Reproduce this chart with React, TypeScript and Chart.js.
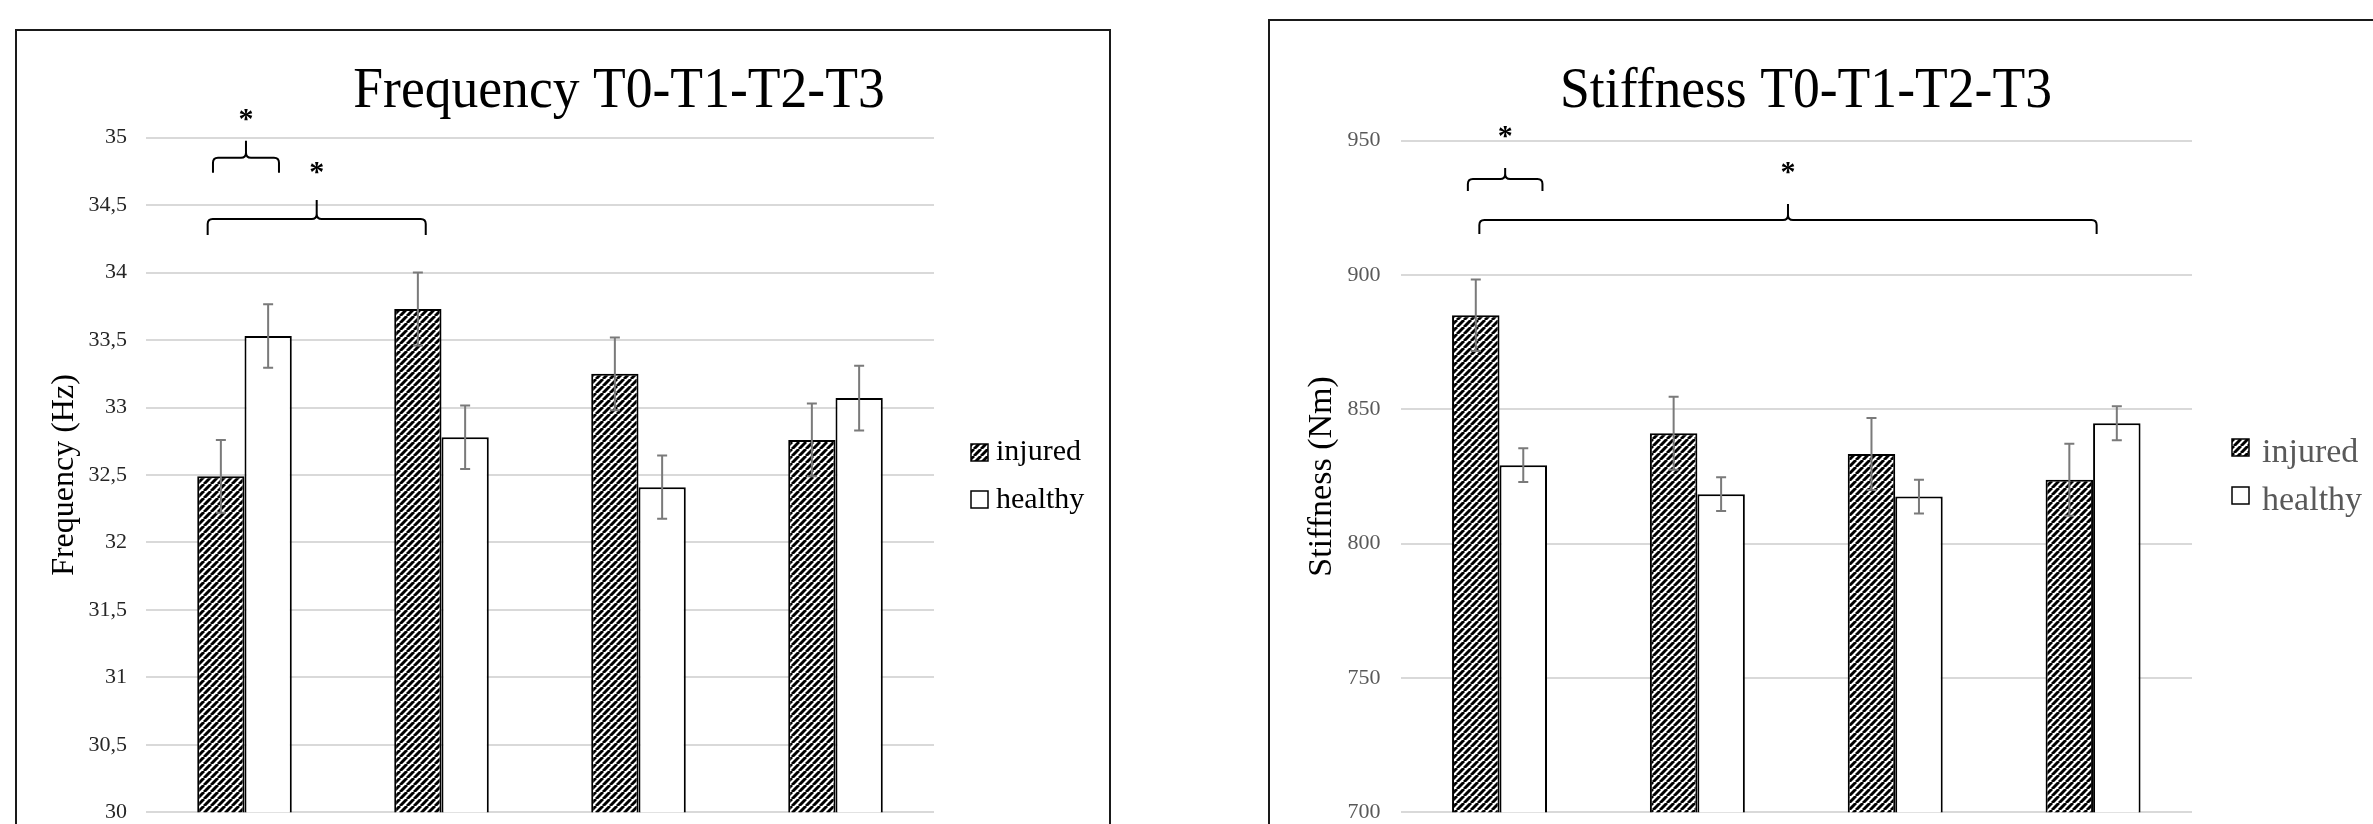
import React, { useEffect, useRef } from 'react';
import { Chart, registerables } from 'chart.js';

Chart.register(...registerables);

// ---------------- data ----------------
const categories = ['T0', 'T1', 'T2', 'T3'];
const seriesNames = ['injured', 'healthy'];

const freqInjured = [32.49, 33.73, 33.25, 32.76];
const freqHealthy = [33.53, 32.78, 32.41, 33.07];
const freqInjuredErr = [0.27, 0.27, 0.27, 0.27];
const freqHealthyErr = [0.235, 0.235, 0.235, 0.24];
const freqTickLabels = ['30', '30,5', '31', '31,5', '32', '32,5', '33', '33,5', '34', '34,5', '35'];

const stiffInjured = [885.0, 841.1, 833.4, 823.8];
const stiffHealthy = [829.2, 818.4, 817.5, 844.8];
const stiffInjuredErr = [13.3, 13.6, 13.4, 13.4];
const stiffHealthyErr = [6.3, 6.3, 6.3, 6.3];
const stiffTickLabels = ['700', '750', '800', '850', '900', '950'];

// significance brackets (category index span, value of bracket line, value of asterisk)
const freqBrackets = [
  { from: -0.16, to: 0.175, y: 34.852, star: 35.183, depth: 15, tip: 17 },
  { from: -0.187, to: 0.92, y: 34.397, star: 34.79, depth: 16, tip: 19 },
];
const stiffBrackets = [
  { from: -0.16, to: 0.217, y: 935.7, star: 954.0, depth: 12, tip: 11 },
  { from: -0.102, to: 3.018, y: 920.5, star: 940.6, depth: 14, tip: 16 },
];

const FONT = "'Liberation Serif', 'Times New Roman', serif";

function makeHatch(ctx: CanvasRenderingContext2D) {
  const P = 7;
  const c = document.createElement('canvas');
  c.width = P;
  c.height = P;
  const g = c.getContext('2d')!;
  g.fillStyle = '#ffffff';
  g.fillRect(0, 0, P, P);
  g.strokeStyle = '#000000';
  g.lineWidth = P * 0.42;
  g.beginPath();
  for (let k = -1; k <= 1; k++) {
    g.moveTo(k * P, P);
    g.lineTo(k * P + P, 0);
  }
  g.stroke();
  return ctx.createPattern(c, 'repeat')!;
}

function drawBrace(ctx: CanvasRenderingContext2D, x0: number, x1: number, yl: number, d: number, t: number) {
  const r = 5;
  const xm = (x0 + x1) / 2;
  ctx.beginPath();
  ctx.moveTo(x0, yl + d);
  ctx.lineTo(x0, yl + r);
  ctx.quadraticCurveTo(x0, yl, x0 + r, yl);
  ctx.lineTo(xm - r, yl);
  ctx.quadraticCurveTo(xm, yl, xm, yl - r);
  ctx.lineTo(xm, yl - t);
  ctx.moveTo(x1, yl + d);
  ctx.lineTo(x1, yl + r);
  ctx.quadraticCurveTo(x1, yl, x1 - r, yl);
  ctx.lineTo(xm + r, yl);
  ctx.quadraticCurveTo(xm, yl, xm, yl - r);
  ctx.stroke();
}

type Cfg = {
  left: number; top: number; W: number; H: number;
  area: { l: number; r: number; t: number; b: number };
  injured: number[]; healthy: number[]; injErr: number[]; healErr: number[];
  min: number; max: number; step: number; tickLabels: string[]; tickColor: string;
  yTitle: string; yTitleSize: number; yTitlePad: number; tickPad: number;
  title: string; titleX: number; titleY: number;
  legend: { boxX: number; boxY: number[]; textX: number; baseY: number[]; size: number; color: string };
  brackets: typeof freqBrackets;
  frameRight: number;
};

function BarPanel({ cfg }: { cfg: Cfg }) {
  const ref = useRef<HTMLCanvasElement>(null);
  useEffect(() => {
    const canvas = ref.current!;
    const ctx0 = canvas.getContext('2d')!;
    const hatch = makeHatch(ctx0);
    const errs = [cfg.injErr, cfg.healErr];

    const decor = {
      id: 'decor',
      afterDatasetsDraw(chart: any) {
        const ctx = chart.ctx as CanvasRenderingContext2D;
        const y = chart.scales.y;
        ctx.save();
        ctx.strokeStyle = '#7a7a7a';
        ctx.lineWidth = 2;
        errs.forEach((arr, di) => {
          const meta = chart.getDatasetMeta(di);
          meta.data.forEach((bar: any, i: number) => {
            const v = chart.data.datasets[di].data[i] as number;
            const yt = y.getPixelForValue(v + arr[i]);
            const yb = y.getPixelForValue(v - arr[i]);
            const x = bar.x;
            ctx.beginPath();
            ctx.moveTo(x, yt);
            ctx.lineTo(x, yb);
            ctx.moveTo(x - 5, yt);
            ctx.lineTo(x + 5, yt);
            ctx.moveTo(x - 5, yb);
            ctx.lineTo(x + 5, yb);
            ctx.stroke();
          });
        });
        ctx.restore();
      },
      afterDraw(chart: any) {
        const ctx = chart.ctx as CanvasRenderingContext2D;
        const x = chart.scales.x;
        const y = chart.scales.y;
        ctx.save();
        // frame
        ctx.strokeStyle = '#1a1a1a';
        ctx.lineWidth = 2;
        ctx.strokeRect(1, 1, cfg.frameRight - 1, cfg.H + 20);
        // title (slightly condensed, like the original)
        ctx.save();
        ctx.translate(cfg.titleX, cfg.titleY);
        ctx.scale(0.975, 1.03);
        ctx.fillStyle = '#000';
        ctx.font = `55px ${FONT}`;
        ctx.textAlign = 'center';
        ctx.textBaseline = 'alphabetic';
        ctx.fillText(cfg.title, 0, 0);
        ctx.restore();
        // legend
        const lg = cfg.legend;
        seriesNames.forEach((name, i) => {
          ctx.fillStyle = i === 0 ? (hatch as any) : '#fff';
          ctx.fillRect(lg.boxX, lg.boxY[i], 17, 17);
          ctx.strokeStyle = '#000';
          ctx.lineWidth = 1.5;
          ctx.strokeRect(lg.boxX, lg.boxY[i], 17, 17);
          ctx.fillStyle = lg.color;
          ctx.font = `${lg.size}px ${FONT}`;
          ctx.textAlign = 'left';
          ctx.textBaseline = 'alphabetic';
          ctx.fillText(name, lg.textX, lg.baseY[i]);
        });
        // brackets
        ctx.strokeStyle = '#000';
        ctx.lineWidth = 2;
        cfg.brackets.forEach((b) => {
          const x0 = x.getPixelForValue(b.from);
          const x1 = x.getPixelForValue(b.to);
          const yl = y.getPixelForValue(b.y);
          drawBrace(ctx, x0, x1, yl, b.depth, b.tip);
          const sy = y.getPixelForValue(b.star);
          ctx.fillStyle = '#000';
          ctx.font = `bold 30px ${FONT}`;
          ctx.textAlign = 'center';
          ctx.textBaseline = 'alphabetic';
          ctx.fillText('*', (x0 + x1) / 2, sy + 15);
        });
        ctx.restore();
      },
    };

    const chart = new Chart(canvas, {
      type: 'bar',
      data: {
        labels: categories,
        datasets: [
          {
            label: seriesNames[0],
            data: cfg.injured,
            backgroundColor: hatch as any,
            borderColor: '#000',
            borderWidth: 2,
            borderSkipped: false,
          },
          {
            label: seriesNames[1],
            data: cfg.healthy,
            backgroundColor: '#ffffff',
            borderColor: '#000',
            borderWidth: 2,
            borderSkipped: false,
          },
        ],
      },
      options: {
        responsive: false,
        animation: false,
        devicePixelRatio: 1,
        categoryPercentage: 0.48,
        barPercentage: 1.0,
        layout: {
          padding: {
            left: 0,
            top: cfg.area.t,
            right: cfg.W - cfg.area.r,
            bottom: cfg.H - cfg.area.b,
          },
        },
        plugins: {
          legend: { display: false },
          tooltip: { enabled: false },
          title: { display: false },
        },
        scales: {
          x: { display: false },
          y: {
            min: cfg.min,
            max: cfg.max,
            afterFit: (s: any) => {
              s.width = cfg.area.l;
            },
            ticks: {
              stepSize: cfg.step,
              padding: cfg.tickPad,
              color: cfg.tickColor,
              font: { family: FONT, size: 22 },
              callback: (_v: any, i: number) => cfg.tickLabels[i],
            },
            grid: { color: '#d9d9d9', lineWidth: 2, drawTicks: false },
            border: { display: false },
            title: {
              display: true,
              text: cfg.yTitle,
              color: '#000',
              font: { family: FONT, size: cfg.yTitleSize },
              padding: { top: cfg.yTitlePad, bottom: 0 },
            },
          },
        },
      } as any,
      plugins: [decor],
    });
    return () => chart.destroy();
  }, []);
  return (
    <canvas
      ref={ref}
      width={cfg.W}
      height={cfg.H}
      style={{ position: 'absolute', left: cfg.left, top: cfg.top, width: cfg.W, height: cfg.H }}
    />
  );
}

const freqCfg: Cfg = {
  left: 15, top: 29, W: 1097, H: 900,
  area: { l: 131, r: 919, t: 108.7, b: 783.3 },
  injured: freqInjured, healthy: freqHealthy, injErr: freqInjuredErr, healErr: freqHealthyErr,
  min: 30, max: 35, step: 0.5, tickLabels: freqTickLabels, tickColor: '#262626',
  yTitle: 'Frequency (Hz)', yTitleSize: 32, yTitlePad: 30.8, tickPad: 19,
  title: 'Frequency T0-T1-T2-T3', titleX: 604, titleY: 78,
  legend: { boxX: 956, boxY: [415, 462], textX: 981, baseY: [431, 479], size: 30, color: '#000' },
  brackets: freqBrackets,
  frameRight: 1095,
};

const stiffCfg: Cfg = {
  left: 1268, top: 19, W: 1200, H: 900,
  area: { l: 132.6, r: 924, t: 121.7, b: 793.2 },
  injured: stiffInjured, healthy: stiffHealthy, injErr: stiffInjuredErr, healErr: stiffHealthyErr,
  min: 700, max: 950, step: 50, tickLabels: stiffTickLabels, tickColor: '#595959',
  yTitle: 'Stiffness (Nm)', yTitleSize: 34, yTitlePad: 34, tickPad: 20,
  title: 'Stiffness T0-T1-T2-T3', titleX: 538, titleY: 88,
  legend: { boxX: 964, boxY: [420, 468], textX: 994, baseY: [442.7, 491], size: 34, color: '#595959' },
  brackets: stiffBrackets,
  frameRight: 1300,
};

export default function App() {
  return (
    <div
      style={{
        position: 'fixed',
        left: 0,
        top: 0,
        width: 2373,
        height: 824,
        overflow: 'hidden',
        background: '#ffffff',
      }}
    >
      <BarPanel cfg={freqCfg} />
      <BarPanel cfg={stiffCfg} />
    </div>
  );
}
